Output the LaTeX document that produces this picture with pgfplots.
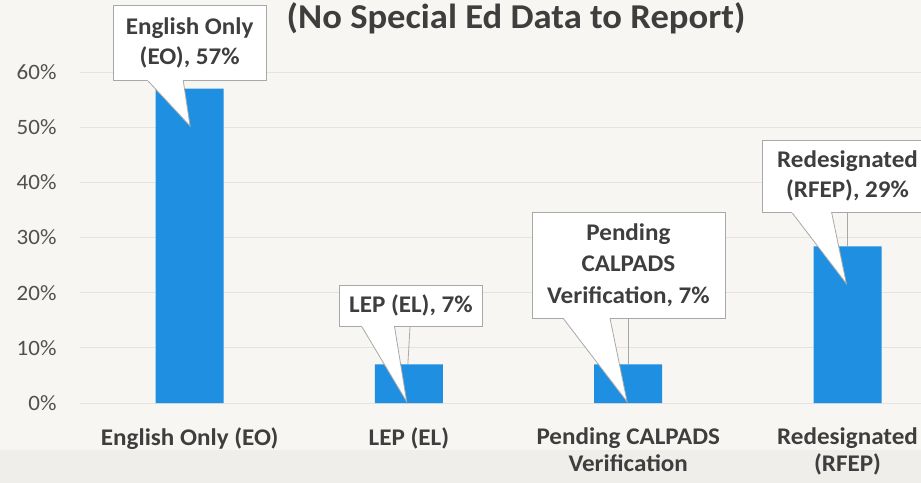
\documentclass[border=0pt]{standalone}
\usepackage{fontspec}
\setmainfont{Carlito}[FakeStretch=1.05]
\usepackage{pgfplots}
\pgfplotsset{compat=1.18}
\definecolor{bg}{HTML}{F8F6F2}
\definecolor{band}{HTML}{F0EEEB}
\definecolor{barblue}{HTML}{1E8FE1}
\definecolor{txt}{HTML}{3E3E3E}
\definecolor{ticktxt}{HTML}{505050}
\definecolor{gridc}{HTML}{E6E3DE}
\definecolor{boxline}{HTML}{A8A8A8}
\begin{document}
\begin{tikzpicture}
\useasboundingbox (0,0) rectangle (921bp,483bp);
\clip (0,0) rectangle (921bp,483bp);
\fill[bg] (0,0) rectangle (921bp,483bp);
\fill[band] (0,0) rectangle (921bp,33bp);
\begin{axis}[
  at={(80bp,80bp)}, anchor=south west, scale only axis,
  width=841bp, height=331bp,
  xmin=-0.5, xmax=3.335, ymin=0, ymax=60,
  axis line style={draw=none},
  ybar, bar width=68bp,
  ytick={0,10,20,30,40,50,60},
  yticklabel={\pgfmathprintnumber{\tick}\%},
  xtick={0,1,2,3},
  xticklabels={English Only (EO), LEP (EL), {Pending CALPADS\\Verification}, {Redesignated\\(RFEP)}},
  major tick length=0pt,
  ymajorgrids, grid style={gridc, line width=1bp},
  /pgf/number format/assume math mode=true,
  yticklabel style={font=\fontsize{22}{26}\selectfont, text=ticktxt, xshift=-20bp},
  xticklabel style={font=\fontsize{24}{27}\selectfont\bfseries, text=txt, align=center, yshift=-21bp},
  clip=false,
]
\addplot[fill=barblue, draw=none] coordinates {(0,57) (1,7) (2,7) (3,28.4)};
\coordinate (cA) at (axis cs:0,65.35);
\coordinate (tA) at (axis cs:0.002,50.2);
\coordinate (cB) at (axis cs:1.009,17.67);
\coordinate (tB) at (axis cs:0.99,0.2);
\coordinate (lB1) at (axis cs:1.005,13.9);
\coordinate (lB2) at (axis cs:0.995,7);
\coordinate (cC) at (axis cs:2.001,25.0);
\coordinate (tC) at (axis cs:1.995,0.2);
\coordinate (lC1) at (axis cs:2,15.4);
\coordinate (lC2) at (axis cs:2,7);
\coordinate (cD) at (axis cs:3.0,41.15);
\coordinate (tD) at (axis cs:2.995,21.6);
\coordinate (lD1) at (axis cs:3,34.6);
\coordinate (lD2) at (axis cs:3,28.4);
\end{axis}
\node[anchor=base, font=\fontsize{35}{40}\selectfont\bfseries, text=txt] at (516bp,454bp) {(No Special Ed Data to Report)};
\tikzset{cbox/.style={draw=boxline, fill=white, line width=0.8bp, outer sep=0pt, inner sep=0pt, align=center, font=\fontsize{24}{30}\selectfont\bfseries, text=txt}}
\draw[boxline, line width=0.8bp] (lB1) -- (lB2);
\draw[boxline, line width=0.8bp] (lC1) -- (lC2);
\draw[boxline, line width=0.8bp] (lD1) -- (lD2);
% EO
\node[cbox, minimum width=153bp, minimum height=75bp] (bA) at (cA) {English Only\\(EO), 57\%};
\filldraw[fill=white, draw=boxline, line width=0.8bp] ([xshift=34bp]bA.south west) -- (tA) -- ([xshift=70bp]bA.south west);
\draw[white, line width=1.6bp] ([xshift=34.8bp]bA.south west) -- ([xshift=69.2bp]bA.south west);
% LEP
\node[cbox, minimum width=143bp, minimum height=41bp] (bB) at (cB) {LEP (EL), 7\%};
\filldraw[fill=white, draw=boxline, line width=0.8bp] ([xshift=22bp]bB.south west) -- (tB) -- ([xshift=55bp]bB.south west);
\draw[white, line width=1.6bp] ([xshift=22.8bp]bB.south west) -- ([xshift=54.2bp]bB.south west);
% Pending
\node[cbox, minimum width=193bp, minimum height=106bp, font=\fontsize{24}{31.5}\selectfont\bfseries] (bC) at (cC) {Pending\\CALPADS\\Verification, 7\%};
\filldraw[fill=white, draw=boxline, line width=0.8bp] ([xshift=31bp]bC.south west) -- (tC) -- ([xshift=78bp]bC.south west);
\draw[white, line width=1.6bp] ([xshift=31.8bp]bC.south west) -- ([xshift=77.2bp]bC.south west);
% RFEP
\node[cbox, minimum width=170bp, minimum height=72bp] (bD) at (cD) {Redesignated\\(RFEP), 29\%};
\filldraw[fill=white, draw=boxline, line width=0.8bp] ([xshift=29bp]bD.south west) -- (tD) -- ([xshift=69bp]bD.south west);
\draw[white, line width=1.6bp] ([xshift=29.8bp]bD.south west) -- ([xshift=68.2bp]bD.south west);
\end{tikzpicture}
\end{document}
